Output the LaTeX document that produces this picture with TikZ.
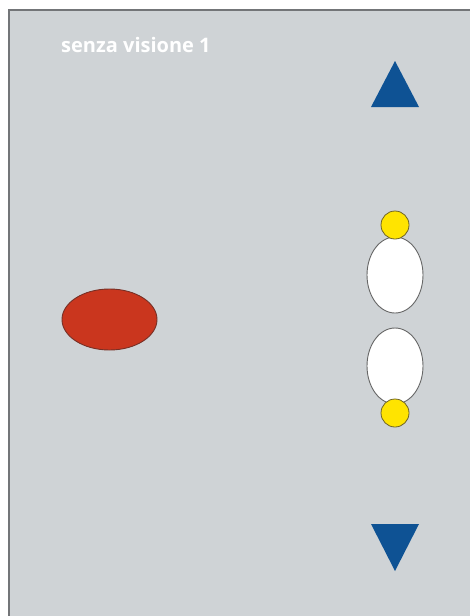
\documentclass[tikz,border=0pt]{standalone}
\usepackage{fontspec}
\setsansfont{Open Sans}
\usetikzlibrary{shapes.geometric}
\definecolor{PanelGray}{RGB}{207,211,214}
\definecolor{PanelEdge}{RGB}{115,117,120}
\definecolor{SignBlue}{RGB}{14,82,148}
\definecolor{SpotRed}{RGB}{202,54,30}
\definecolor{SpotRedEdge}{RGB}{120,48,38}
\definecolor{SpotYellow}{RGB}{255,228,0}
\definecolor{SpotYellowEdge}{RGB}{110,100,40}

\begin{document}
\begin{tikzpicture}[x=1pt, y=-1pt,
	occhio/.style={ellipse, draw=black!60, line width=0.9pt, fill=white, minimum width=56pt, minimum height=76pt, inner sep=0pt},
	punto/.style={circle, draw=SpotYellowEdge, line width=0.8pt, fill=SpotYellow, minimum size=28pt, inner sep=0pt},
	segno/.style={fill=SignBlue}]
	\useasboundingbox (0,0) rectangle (470,616);

	% pannello
	\fill[PanelGray] (9,10) rectangle (470,616);
	\draw[PanelEdge, line width=1.3pt] (9,616) -- (9,10) -- (470,10);
	\node[font=\sffamily\bfseries\fontsize{20}{24}\selectfont, text=white, anchor=base west, inner sep=0pt]
		(titolo) at (61,52) {senza visione 1};

	% frecce
	\fill[segno] (395,61) -- (419,107) -- (371,107) -- cycle;
	\fill[segno] (371,524) -- (419,524) -- (395,571) -- cycle;

	% macchia rossa
	\node[ellipse, draw=SpotRedEdge, line width=0.9pt, fill=SpotRed, minimum width=95pt, minimum height=61pt, inner sep=0pt]
		(macchia) at (109.5,319.5) {};

	% occhi
	\node[occhio] (occhioA) at (395,275) {};
	\node[occhio] (occhioB) at (395,366) {};
	\node[punto] (puntoA) at (395,225) {};
	\node[punto] (puntoB) at (395,413) {};
\end{tikzpicture}
\end{document}
